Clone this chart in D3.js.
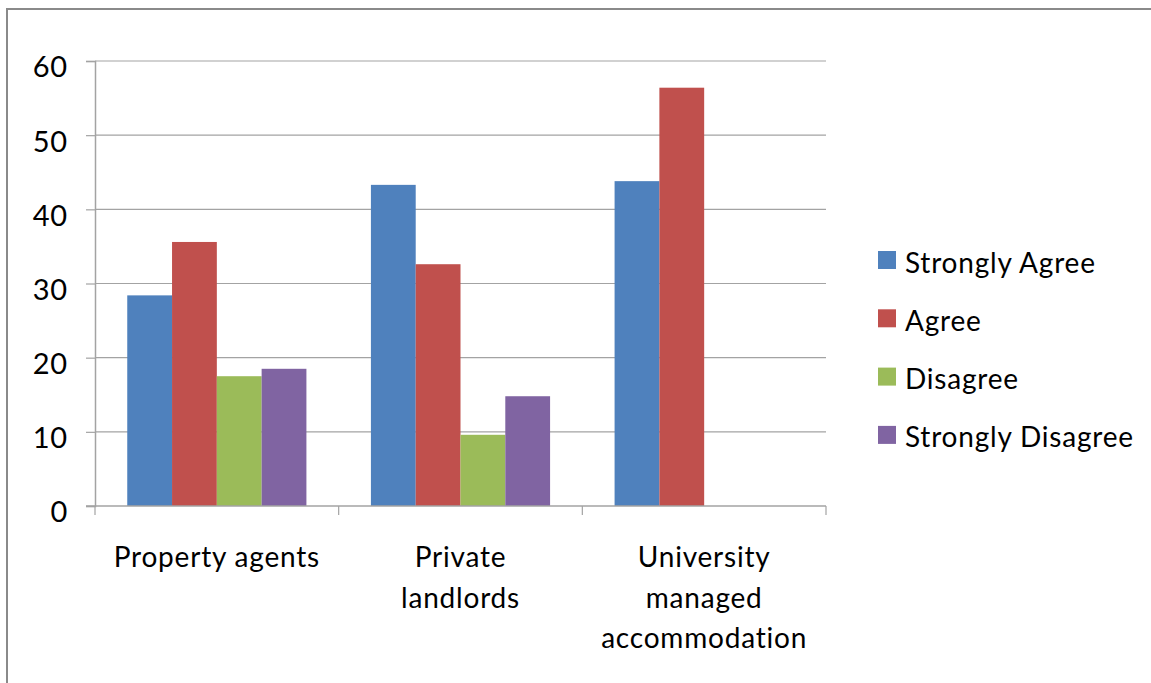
<!DOCTYPE html>
<html>
<head>
<meta charset="utf-8">
<script src="https://cdn.jsdelivr.net/npm/d3@7"></script>
<style>
  html, body { margin: 0; padding: 0; background: #fff; }
  svg { display: block; }
  text { font-family: Lato, "Open Sans", sans-serif; fill: #000; letter-spacing: 0.8px; }
</style>
</head>
<body>
<svg id="chart" width="1151" height="683"></svg>
<script>
// Survey responses (%) by accommodation provider
const categories = ["Property agents", "Private landlords", "University managed accommodation"];
const categoryLines = [["Property agents"], ["Private", "landlords"], ["University", "managed", "accommodation"]];
const seriesNames = ["Strongly Agree", "Agree", "Disagree", "Strongly Disagree"];
const seriesColors = ["#4F81BD", "#C0504D", "#9BBB59", "#8064A2"];
const stronglyAgree = [28.4, 43.3, 43.8];
const agree = [35.6, 32.6, 56.4];
const disagree = [17.5, 9.6, null];
const stronglyDisagree = [18.5, 14.8, null];
const yTicks = [0, 10, 20, 30, 40, 50, 60];

const seriesValues = [stronglyAgree, agree, disagree, stronglyDisagree];

const svg = d3.select("#chart");
const plot = { left: 95, right: 826, top: 61, bottom: 506 };
const fontSize = 28;

// outer chart frame (only top and left edges fall inside the view)
svg.append("rect")
  .attr("x", 7).attr("y", 9)
  .attr("width", 1200).attr("height", 700)
  .attr("fill", "none").attr("stroke", "#8a8a8a").attr("stroke-width", 2);

const x0 = d3.scaleBand().domain(categories).range([plot.left, plot.right]).paddingInner(0).paddingOuter(0);
const x1 = d3.scaleBand().domain(seriesNames).range([0, x0.bandwidth()]).paddingInner(0).paddingOuter(0.72);
const y = d3.scaleLinear().domain([0, 60]).range([plot.bottom, plot.top]);

// horizontal gridlines
svg.append("g").selectAll("line").data(yTicks.filter(d => d > 0)).join("line")
  .attr("x1", plot.left).attr("x2", plot.right)
  .attr("y1", d => y(d)).attr("y2", d => y(d))
  .attr("stroke", "#a3a3a3").attr("stroke-width", 1.2);

// bars
const groups = svg.append("g").selectAll("g").data(categories).join("g")
  .attr("transform", d => `translate(${x0(d)},0)`);
groups.selectAll("rect")
  .data((c, i) => seriesNames.map((s, j) => ({ s, v: seriesValues[j][i], color: seriesColors[j] })).filter(d => d.v != null))
  .join("rect")
  .attr("x", d => x1(d.s))
  .attr("width", x1.bandwidth())
  .attr("y", d => y(d.v))
  .attr("height", d => y(0) - y(d.v))
  .attr("fill", d => d.color);

// y axis
const yAxis = svg.append("g").attr("transform", `translate(${plot.left},0)`)
  .call(d3.axisLeft(y).tickValues(yTicks).tickSize(9).tickPadding(18));
yAxis.select(".domain").attr("stroke", "#a3a3a3").attr("stroke-width", 1.5);
yAxis.selectAll(".tick line").attr("stroke", "#a3a3a3").attr("stroke-width", 1.2);
yAxis.selectAll(".tick text")
  .attr("font-size", 29)
  .attr("font-family", "Lato, 'Open Sans', sans-serif")
  .attr("fill", "#000")
  .attr("dy", "0.55em");

// x axis with category boundary ticks
const xAxisG = svg.append("g");
xAxisG.append("line")
  .attr("x1", plot.left - 9).attr("x2", plot.right)
  .attr("y1", y(0)).attr("y2", y(0))
  .attr("stroke", "#a3a3a3").attr("stroke-width", 1.5);
const bounds = categories.map(c => x0(c)).concat([x0(categories[categories.length - 1]) + x0.bandwidth()]);
xAxisG.selectAll("line.tick").data(bounds).join("line")
  .attr("class", "tick")
  .attr("x1", d => d).attr("x2", d => d)
  .attr("y1", y(0)).attr("y2", y(0) + 9)
  .attr("stroke", "#a3a3a3").attr("stroke-width", 1.2);

// category labels (wrapped)
const labelG = svg.append("g");
categories.forEach((c, i) => {
  const cx = x0(c) + x0.bandwidth() / 2;
  const t = labelG.append("text")
    .attr("text-anchor", "middle")
    .attr("font-size", fontSize)
    .attr("x", cx)
    .attr("y", 567);
  categoryLines[i].forEach((line, k) => {
    t.append("tspan").attr("x", cx).attr("dy", k === 0 ? 0 : 40.5).text(line);
  });
});

// legend
const legend = svg.append("g").selectAll("g").data(seriesNames).join("g")
  .attr("transform", (d, i) => `translate(878,${251 + i * 58.3})`);
legend.append("rect").attr("width", 18).attr("height", 18).attr("fill", (d, i) => seriesColors[i]);
legend.append("text").attr("x", 27).attr("y", 21.5).attr("font-size", fontSize).text(d => d);
</script>
</body>
</html>
